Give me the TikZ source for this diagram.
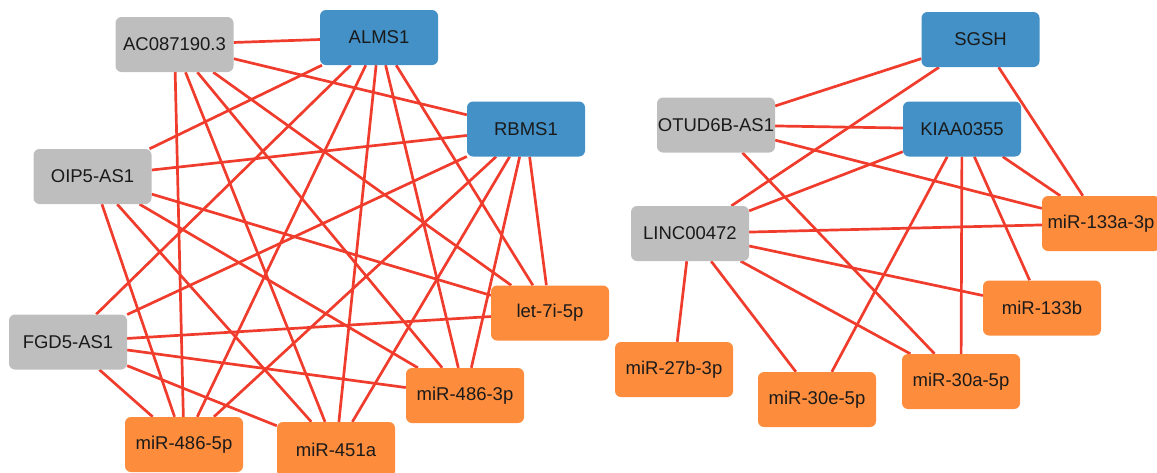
\documentclass[tikz,border=0pt]{standalone}
\usepackage{fontspec}
\setmainfont{Liberation Sans}
\usetikzlibrary{backgrounds}
\definecolor{mrnablue}{HTML}{4391C6}
\definecolor{lncgray}{HTML}{BEBEBE}
\definecolor{mirorange}{HTML}{FD8C3C}
\definecolor{edgered}{HTML}{F03C2C}
\definecolor{txt}{HTML}{1A1A1A}
\tikzset{
  gene/.style={rectangle, rounded corners=6pt, minimum width=118pt, minimum height=55pt,
    inner sep=0pt, text=txt, font=\fontsize{18.5}{20}\selectfont, draw=none},
  mrna/.style={gene, fill=mrnablue},
  lnc/.style={gene, fill=lncgray},
  mir/.style={gene, fill=mirorange},
  link/.style={draw=edgered, line width=2.7pt}
}
\begin{document}
\begin{tikzpicture}[x=1pt,y=-1pt]
\useasboundingbox (0,0) rectangle (1157,472);
% left network
\node[lnc]  (ac)   at (174.5,44.5) {AC087190.3};
\node[mrna] (alms) at (379,37.5)   {ALMS1};
\node[mrna] (rbms) at (526,129)    {RBMS1};
\node[lnc]  (oip)  at (92.5,176.5) {OIP5-AS1};
\node[lnc]  (fgd)  at (68,342)     {FGD5-AS1};
\node[mir]  (let)  at (550,313)    {let-7i-5p};
\node[mir]  (m3p)  at (465,395.5)  {miR-486-3p};
\node[mir]  (m5p)  at (184,444.5)  {miR-486-5p};
\node[mir]  (m451) at (336,449.5)  {miR-451a};
% right network
\node[mrna] (sgsh) at (980.5,39.5) {SGSH};
\node[lnc]  (otu)  at (716,125)    {OTUD6B-AS1};
\node[mrna] (kiaa) at (962,129)    {KIAA0355};
\node[lnc]  (linc) at (690,233.5)  {LINC00472};
\node[mir]  (m133a) at (1101,223.5) {miR-133a-3p};
\node[mir]  (m133b) at (1042,308)  {miR-133b};
\node[mir]  (m27b) at (674,369.5)  {miR-27b-3p};
\node[mir]  (m30e) at (817,399.5)  {miR-30e-5p};
\node[mir]  (m30a) at (961,381.5)  {miR-30a-5p};
\begin{pgfonlayer}{background}
% left: lncRNA -- mRNA
\foreach \a in {ac,oip,fgd}{
  \foreach \b in {alms,rbms}{ \draw[link] (\a) -- (\b); }
}
% left: genes -- miRNAs
\foreach \a in {ac,oip,fgd,alms,rbms}{
  \foreach \b in {let,m3p,m5p,m451}{ \draw[link] (\a) -- (\b); }
}
% right
\draw[link] (sgsh) -- (otu);
\draw[link] (sgsh) -- (linc);
\draw[link] (sgsh) -- (m133a);
\draw[link] (otu) -- (kiaa);
\draw[link] (otu) -- (m133a);
\draw[link] (otu) -- (m30a);
\draw[link] (kiaa) -- (linc);
\draw[link] (kiaa) -- (m133a);
\draw[link] (kiaa) -- (m133b);
\draw[link] (kiaa) -- (m30e);
\draw[link] (kiaa) -- (m30a);
\draw[link] (linc) -- (m133a);
\draw[link] (linc) -- (m133b);
\draw[link] (linc) -- (m27b);
\draw[link] (linc) -- (m30e);
\draw[link] (linc) -- (m30a);
\end{pgfonlayer}
\end{tikzpicture}
\end{document}
